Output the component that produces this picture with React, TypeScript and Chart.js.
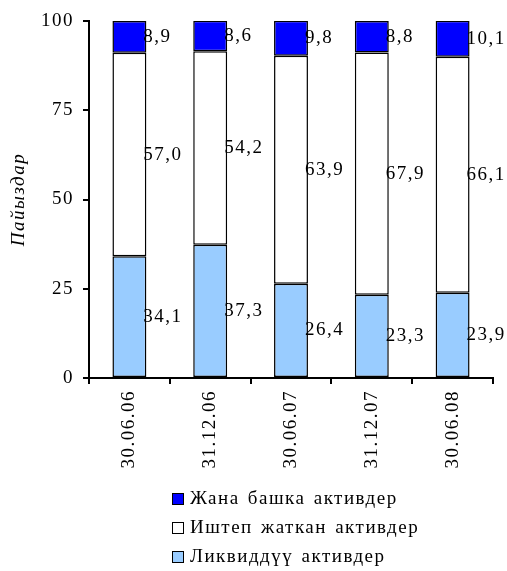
import React, { useEffect, useRef } from "react";
import { Chart, registerables } from "chart.js";

Chart.register(...registerables);

const categories = ["30.06.06", "31.12.06", "30.06.07", "31.12.07", "30.06.08"];
const liquidAssets = [34.1, 37.3, 26.4, 23.3, 23.9];
const operatingAssets = [57.0, 54.2, 63.9, 67.9, 66.1];
const otherAssets = [8.9, 8.6, 9.8, 8.8, 10.1];
const seriesLabels = ["Ликвиддүү активдер", "Иштеп жаткан активдер", "Жана башка активдер"];
const axisTitle = "Пайыздар";

const FONT = "'Liberation Serif', 'Times New Roman', serif";
const SPACING = "1.5px";

const fmt = (v: number) => v.toFixed(1).replace(".", ",");

// Slightly spaced-out lettering for every text drawn on the canvas
const letterSpacing = {
  id: "letterSpacing",
  beforeInit(chart: any) {
    chart.ctx.letterSpacing = SPACING;
  },
  beforeLayout(chart: any) {
    chart.ctx.letterSpacing = SPACING;
  },
  beforeDraw(chart: any) {
    chart.ctx.letterSpacing = SPACING;
  },
};

// Value labels placed just right of each stacked segment
const valueLabels = {
  id: "valueLabels",
  afterDatasetsDraw(chart: any) {
    const ctx = chart.ctx;
    ctx.save();
    ctx.font = `19px ${FONT}`;
    ctx.fillStyle = "#000";
    ctx.textAlign = "left";
    ctx.textBaseline = "middle";
    chart.data.datasets.forEach((ds: any, di: number) => {
      const meta = chart.getDatasetMeta(di);
      meta.data.forEach((el: any, i: number) => {
        const { x, y, base, width } = el.getProps(["x", "y", "base", "width"], true);
        ctx.fillText(fmt(ds.data[i]), x + width / 2 - 3, (y + base) / 2);
      });
    });
    ctx.restore();
  },
};

// Vertical legend under the axis, top series first
const stackedLegend = {
  id: "stackedLegend",
  afterDraw(chart: any) {
    const ctx = chart.ctx;
    ctx.save();
    ctx.font = `19px ${FONT}`;
    ctx.wordSpacing = "2px";
    ctx.textAlign = "left";
    ctx.textBaseline = "middle";
    const items = [...chart.data.datasets].reverse();
    const x0 = 172;
    const y0 = 499;
    const gap = 29;
    items.forEach((ds: any, k: number) => {
      const cy = y0 + k * gap;
      ctx.fillStyle = ds.backgroundColor;
      ctx.fillRect(x0, cy - 6, 12, 12);
      ctx.strokeStyle = "#000";
      ctx.lineWidth = 1;
      ctx.strokeRect(x0 + 0.5, cy - 5.5, 11, 11);
      ctx.fillStyle = "#000";
      ctx.fillText(ds.label, x0 + 18, cy);
    });
    ctx.restore();
  },
};

export default function App() {
  const canvasRef = useRef<HTMLCanvasElement | null>(null);

  useEffect(() => {
    const canvas = canvasRef.current;
    if (!canvas) return;
    const common = {
      borderColor: "#000",
      borderWidth: 1.5,
      borderSkipped: false,
      barPercentage: 0.42,
      categoryPercentage: 1,
    };
    const chart = new Chart(canvas, {
      type: "bar",
      data: {
        labels: categories,
        datasets: [
          { label: seriesLabels[0], data: liquidAssets, backgroundColor: "#99CCFF", ...common },
          { label: seriesLabels[1], data: operatingAssets, backgroundColor: "#FFFFFF", ...common },
          { label: seriesLabels[2], data: otherAssets, backgroundColor: "#0000FF", ...common },
        ],
      },
      options: {
        responsive: false,
        animation: false,
        layout: { padding: { left: 0, right: 14, top: 21, bottom: 0 } },
        plugins: {
          legend: { display: false },
          tooltip: { enabled: false },
        },
        scales: {
          x: {
            stacked: true,
            grid: {
              offset: true,
              drawOnChartArea: false,
              drawTicks: true,
              tickLength: 6,
              color: "#000",
              lineWidth: 2,
            },
            border: { display: true, color: "#000", width: 2 },
            ticks: {
              color: "#000",
              font: { family: FONT, size: 19 },
              minRotation: 90,
              maxRotation: 90,
              padding: 6,
            },
            afterFit(scale: any) {
              scale.height = 193;
            },
          },
          y: {
            stacked: true,
            min: 0,
            max: 100,
            grid: {
              drawOnChartArea: false,
              drawTicks: true,
              tickLength: 6,
              color: "#000",
              lineWidth: 2,
            },
            border: { display: true, color: "#000", width: 2 },
            ticks: {
              stepSize: 25,
              color: "#000",
              font: { family: FONT, size: 19 },
              padding: 9,
            },
            title: {
              display: true,
              text: axisTitle,
              color: "#000",
              font: { family: FONT, size: 19, style: "italic" },
              padding: { top: 8, bottom: 4 },
            },
            afterFit(scale: any) {
              scale.width = 89;
            },
          },
        },
      },
      plugins: [letterSpacing, valueLabels, stackedLegend],
    });
    return () => chart.destroy();
  }, []);

  return (
    <canvas
      ref={canvasRef}
      width={507}
      height={571}
      style={{ position: "absolute", left: 0, top: 0, display: "block" }}
    />
  );
}
